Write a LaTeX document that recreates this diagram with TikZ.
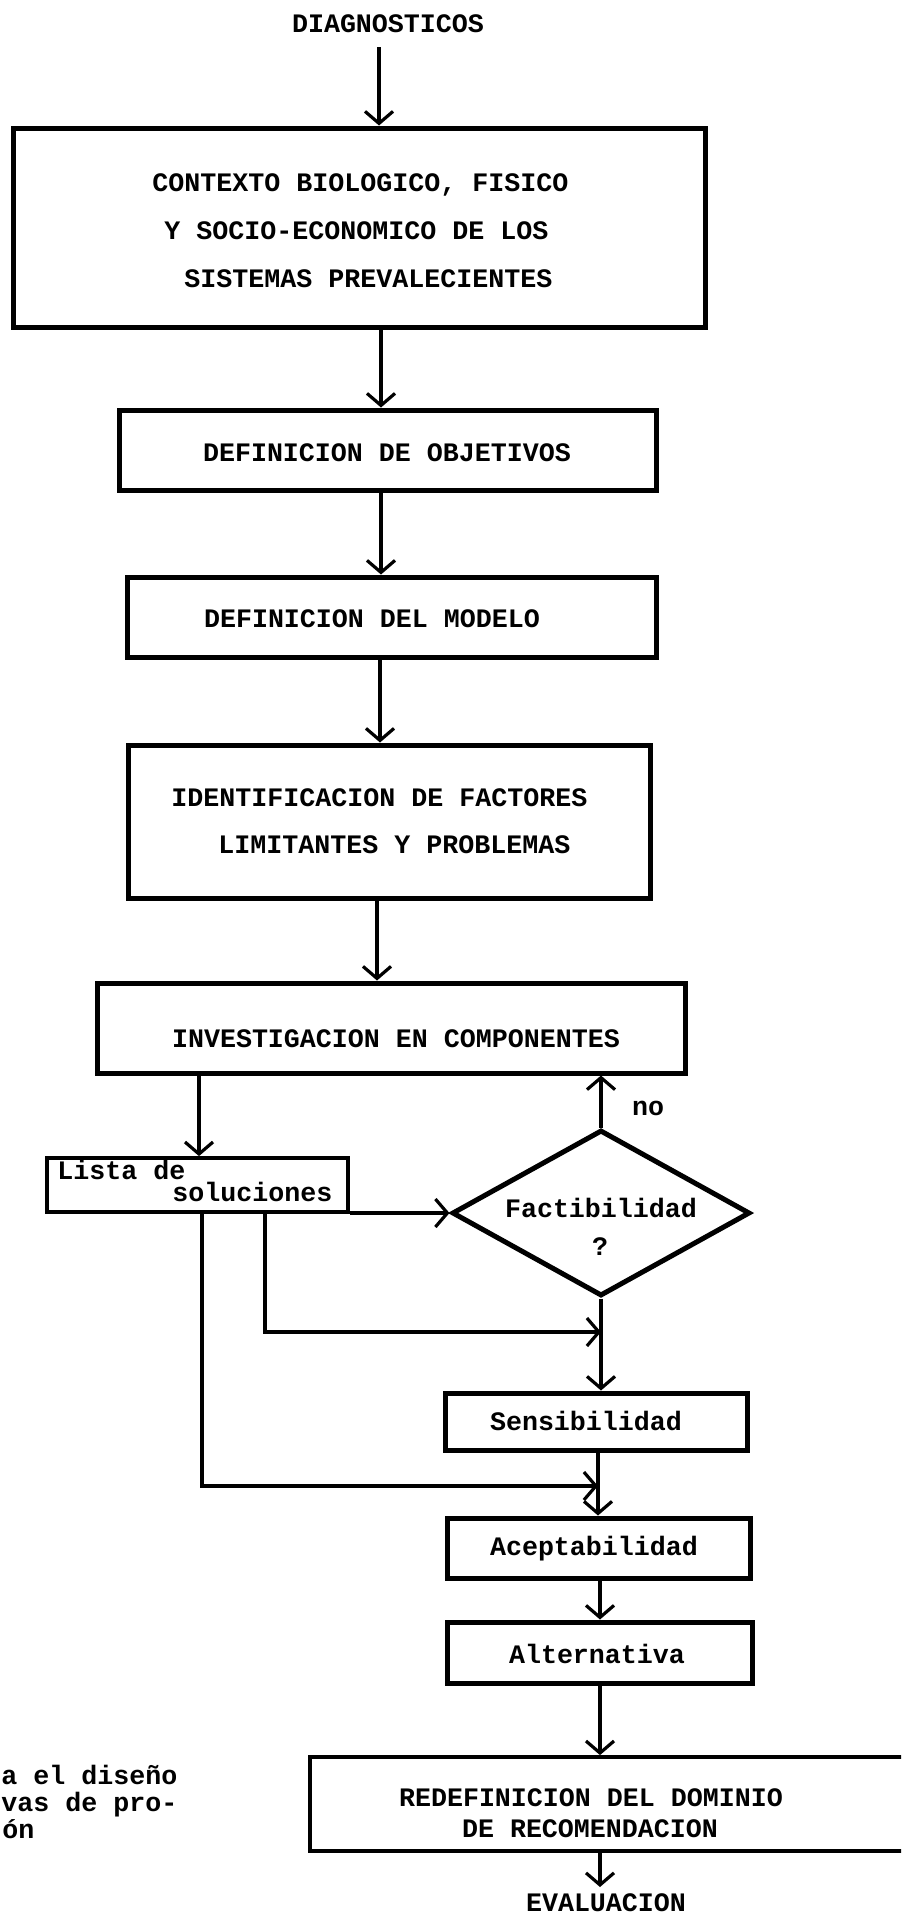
\documentclass[tikz,border=0pt]{standalone}
\usepackage{fontspec}
\newfontfamily\typew{Liberation Mono}
\usetikzlibrary{arrows.meta,shapes.geometric}
\begin{document}
\begin{tikzpicture}[x=0.5pt,y=-0.5pt,
  boxs/.style={draw, rectangle, line width=2.5pt, inner sep=0pt},
  thinbox/.style={draw, rectangle, line width=1.9pt, inner sep=0pt},
  txt/.style={font=\typew\bfseries\fontsize{13.33pt}{16pt}\selectfont, inner sep=0pt, anchor=base},
  txtl/.style={txt, anchor=base west},
  txtr/.style={txt, anchor=base east},
  conn/.style={line width=1.6pt},
  arr/.style={conn, -{Straight Barb[length=6pt,width=14pt]}}]
\useasboundingbox (0,0) rectangle (901,1917);
\clip (0,0) rectangle (901,1917);

% nodes
\node[txt] (diag) at (388,32) {DIAGNOSTICOS};
\node[boxs, minimum width=346pt, minimum height=99.5pt] (ctx) at (359,227.5) {};
\node[txtl] (ctx1) at (152,191) {CONTEXTO BIOLOGICO, FISICO};
\node[txtl] (ctx2) at (164,239) {Y SOCIO-ECONOMICO DE LOS};
\node[txtl] (ctx3) at (184,287) {SISTEMAS PREVALECIENTES};

\node[boxs, minimum width=268.5pt, minimum height=40pt] (obj) at (387.5,450) {};
\node[txt] (objt) at (387,461) {DEFINICION DE OBJETIVOS};

\node[boxs, minimum width=264.5pt, minimum height=40pt] (mod) at (391.5,617) {};
\node[txt] (modt) at (372,627) {DEFINICION DEL MODELO};

\node[boxs, minimum width=261pt, minimum height=76.5pt] (lim) at (389,821.5) {};
\node[txtl] (lim1) at (171,806) {IDENTIFICACION DE FACTORES};
\node[txtl] (lim2) at (218,853) {LIMITANTES Y PROBLEMAS};

\node[boxs, minimum width=294pt, minimum height=45pt] (inv) at (391,1028) {};
\node[txt] (invt) at (396,1047) {INVESTIGACION EN COMPONENTES};

\node[thinbox, minimum width=150.5pt, minimum height=27pt] (lista) at (197.5,1185) {};
\node[txtl] (lista1) at (57,1179) {Lista de};
\node[txtl] (lista2) at (172,1201) {soluciones};

\node[diamond, draw, line width=2.5pt, inner sep=0pt, minimum width=149pt, minimum height=83pt] (fact) at (601,1213) {};
\node[txt] (factt) at (601,1217) {Factibilidad};
\node[txt] (factq) at (600,1255) {?};
\node[txt] (no) at (648,1115) {no};

\node[boxs, minimum width=151pt, minimum height=28.5pt] (sens) at (596,1421.5) {};
\node[txt] (senst) at (586,1430) {Sensibilidad};

\node[boxs, minimum width=151.5pt, minimum height=30pt] (acep) at (598.5,1548) {};
\node[txt] (acept) at (594,1555) {Aceptabilidad};

\node[boxs, minimum width=152.5pt, minimum height=30.5pt] (alt) at (599.5,1652.5) {};
\node[txt] (altt) at (597,1663) {Alternativa};

\node[thinbox, minimum width=305pt, minimum height=47pt] (red) at (615,1804) {};
\node[txt] (red1) at (591,1806) {REDEFINICION DEL DOMINIO};
\node[txt] (red2) at (590,1837) {DE RECOMENDACION};

\node[txt] (eval) at (606,1911) {EVALUACION};

\node[txtl] (cap1) at (1,1784) {a el diseño};
\node[txtl] (cap2) at (1,1811) {vas de pro-};
\node[txtl] (cap3) at (2,1838) {ón};

% connectors
\coordinate (d0) at (379,47);
\draw[arr] (d0) -- (d0 |- ctx.north);
\coordinate (c2) at (381,0);
\draw[arr] (ctx.south -| c2) -- (obj.north -| c2);
\draw[arr] (obj.south -| c2) -- (mod.north -| c2);
\coordinate (c4) at (380,0);
\draw[arr] (mod.south -| c4) -- (lim.north -| c4);
\coordinate (c5) at (377,0);
\draw[arr] (lim.south -| c5) -- (inv.north -| c5);
\coordinate (c6) at (199,0);
\draw[arr] (inv.south -| c6) -- (lista.north -| c6);
\draw[arr] (lista.east |- fact.west) -- (fact.west);
\draw[arr] (fact.north) -- (fact.north |- inv.south);
\draw[arr] (fact.south) -- (fact.south |- sens.north);
\coordinate (b1) at (265,1332);
\draw[arr] (lista.south -| b1) -- (b1) -- (b1 -| fact.south);
\coordinate (m) at (598,0);
\coordinate (b2) at (202,1486);
\draw[arr] (lista.south -| b2) -- (b2) -- (b2 -| m);
\draw[arr] (sens.south -| m) -- (acep.north -| m);
\coordinate (m2) at (600,0);
\draw[arr] (acep.south -| m2) -- (alt.north -| m2);
\draw[arr] (alt.south -| m2) -- (red.north -| m2);
\coordinate (e0) at (600,1887);
\draw[arr] (red.south -| e0) -- (e0);
\end{tikzpicture}
\end{document}
